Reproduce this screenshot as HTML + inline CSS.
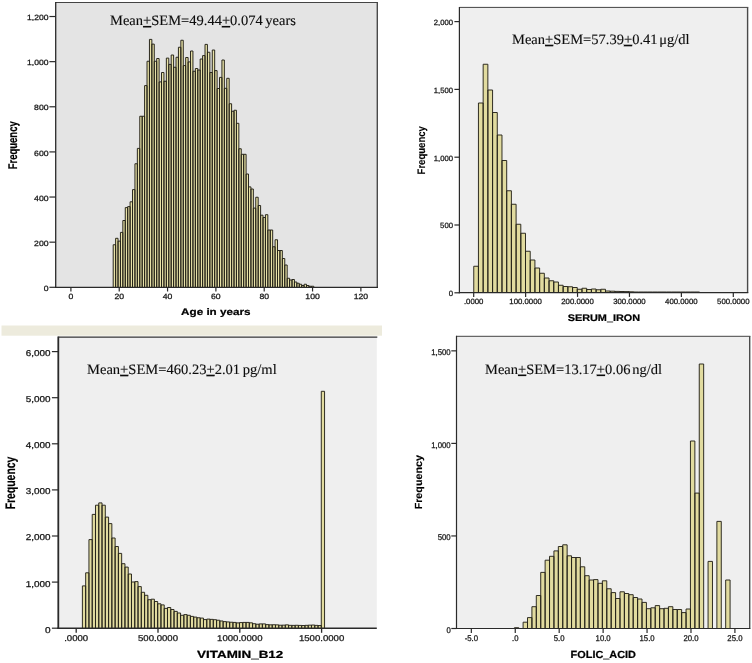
<!DOCTYPE html>
<html><head><meta charset="utf-8"><title>Histograms</title>
<style>html,body{margin:0;padding:0;background:#fff;}body{width:752px;height:663px;overflow:hidden;font-family:"Liberation Sans",sans-serif;}svg{display:block;will-change:transform;}</style>
</head><body>
<svg width="752" height="663" viewBox="0 0 752 663">
<rect width="752" height="663" fill="#ffffff"/>
<rect x="1.5" y="325.5" width="380.5" height="10.2" fill="#edebdd"/>
<rect x="55.7" y="2.5" width="321.8" height="284.8" fill="#e4e4e4"/>
<path d="M55.7 2.5H378.0" stroke="#444" stroke-width="1" fill="none"/>
<path d="M377.3 2.5V287.3" stroke="#4a4a4a" stroke-width="1.4" fill="none"/>
<path d="M113.19 287.30V244.75H115.61V287.30M115.61 287.30V238.30H118.02V287.30M118.02 287.30V241.10H120.44V287.30M120.44 287.30V232.40H122.85V287.30M122.85 287.30V220.50H125.27V287.30M125.27 287.30V207.60H127.69V287.30M127.69 287.30V206.60H130.10V287.30M130.10 287.30V201.80H132.52V287.30M132.52 287.30V189.60H134.94V287.30M134.94 287.30V163.75H137.35V287.30M137.35 287.30V148.40H139.77V287.30M139.77 287.30V116.25H142.19V287.30M142.19 287.30V116.25H144.60V287.30M144.60 287.30V85.60H147.02V287.30M147.02 287.30V61.25H149.44V287.30M149.44 287.30V39.40H151.85V287.30M151.85 287.30V44.10H154.27V287.30M154.27 287.30V61.25H156.69V287.30M156.69 287.30V58.50H159.10V287.30M159.10 287.30V81.90H161.52V287.30M161.52 287.30V72.50H163.94V287.30M163.94 287.30V81.25H166.35V287.30M166.35 287.30V58.10H168.77V287.30M168.77 287.30V64.40H171.18V287.30M171.18 287.30V55.00H173.60V287.30M173.60 287.30V67.25H176.02V287.30M176.02 287.30V57.25H178.43V287.30M178.43 287.30V47.25H180.85V287.30M180.85 287.30V40.25H183.27V287.30M183.27 287.30V65.60H185.68V287.30M185.68 287.30V57.50H188.10V287.30M188.10 287.30V61.90H190.52V287.30M190.52 287.30V51.00H192.93V287.30M192.93 287.30V71.25H195.35V287.30M195.35 287.30V68.50H197.77V287.30M197.77 287.30V70.00H200.18V287.30M200.18 287.30V59.00H202.60V287.30M202.60 287.30V55.60H205.02V287.30M205.02 287.30V44.40H207.43V287.30M207.43 287.30V52.25H209.85V287.30M209.85 287.30V72.50H212.27V287.30M212.27 287.30V50.00H214.68V287.30M214.68 287.30V70.60H217.10V287.30M217.10 287.30V88.50H219.51V287.30M219.51 287.30V77.40H221.93V287.30M221.93 287.30V60.00H224.35V287.30M224.35 287.30V88.30H226.76V287.30M226.76 287.30V78.30H229.18V287.30M229.18 287.30V103.75H231.60V287.30M231.60 287.30V111.25H234.01V287.30M234.01 287.30V110.25H236.43V287.30M236.43 287.30V123.30H238.85V287.30M238.85 287.30V148.75H241.26V287.30M241.26 287.30V154.30H243.68V287.30M243.68 287.30V154.30H246.10V287.30M246.10 287.30V174.00H248.51V287.30M248.51 287.30V186.90H250.93V287.30M250.93 287.30V189.00H253.35V287.30M253.35 287.30V208.10H255.76V287.30M255.76 287.30V197.25H258.18V287.30M258.18 287.30V205.50H260.60V287.30M260.60 287.30V215.20H263.01V287.30M263.01 287.30V217.50H265.43V287.30M265.43 287.30V214.70H267.84V287.30M267.84 287.30V230.00H270.26V287.30M270.26 287.30V230.00H272.68V287.30M272.68 287.30V246.75H275.09V287.30M275.09 287.30V239.75H277.51V287.30M277.51 287.30V250.50H279.93V287.30M279.93 287.30V250.50H282.34V287.30M282.34 287.30V258.50H284.76V287.30M284.76 287.30V265.00H287.18V287.30M287.18 287.30V278.25H289.59V287.30M289.59 287.30V280.00H292.01V287.30M292.01 287.30V279.50H294.43V287.30M294.43 287.30V282.00H296.84V287.30M296.84 287.30V283.25H299.26V287.30M299.26 287.30V284.25H301.68V287.30M301.68 287.30V285.50H304.09V287.30M304.09 287.30V284.25H306.51V287.30M306.51 287.30V285.50H308.93V287.30M308.93 287.30V286.25H311.34V287.30M311.34 287.30V286.25H313.76V287.30" fill="#e8e2a8" stroke="#26241a" stroke-width="0.98"/>
<path d="M55.7 2.0V287.95" stroke="#2a2a2a" stroke-width="1.3" fill="none"/>
<path d="M55.050000000000004 287.3H378.0" stroke="#2a2a2a" stroke-width="1.3" fill="none"/>
<path d="M49.400000000000006 287.30H55.7" stroke="#2a2a2a" stroke-width="1.2"/>
<text x="48.5" y="291.0" text-rendering="geometricPrecision" font-family="Liberation Sans, sans-serif" font-size="7.6" text-anchor="end" fill="#161616" stroke="#161616" stroke-width="0.26" textLength="4.8" lengthAdjust="spacingAndGlyphs">0</text>
<path d="M49.400000000000006 242.17H55.7" stroke="#2a2a2a" stroke-width="1.2"/>
<text x="48.5" y="245.87" text-rendering="geometricPrecision" font-family="Liberation Sans, sans-serif" font-size="7.6" text-anchor="end" fill="#161616" stroke="#161616" stroke-width="0.26" textLength="14.4" lengthAdjust="spacingAndGlyphs">200</text>
<path d="M49.400000000000006 197.04H55.7" stroke="#2a2a2a" stroke-width="1.2"/>
<text x="48.5" y="200.74" text-rendering="geometricPrecision" font-family="Liberation Sans, sans-serif" font-size="7.6" text-anchor="end" fill="#161616" stroke="#161616" stroke-width="0.26" textLength="14.4" lengthAdjust="spacingAndGlyphs">400</text>
<path d="M49.400000000000006 151.91H55.7" stroke="#2a2a2a" stroke-width="1.2"/>
<text x="48.5" y="155.61" text-rendering="geometricPrecision" font-family="Liberation Sans, sans-serif" font-size="7.6" text-anchor="end" fill="#161616" stroke="#161616" stroke-width="0.26" textLength="14.4" lengthAdjust="spacingAndGlyphs">600</text>
<path d="M49.400000000000006 106.78H55.7" stroke="#2a2a2a" stroke-width="1.2"/>
<text x="48.5" y="110.48" text-rendering="geometricPrecision" font-family="Liberation Sans, sans-serif" font-size="7.6" text-anchor="end" fill="#161616" stroke="#161616" stroke-width="0.26" textLength="14.4" lengthAdjust="spacingAndGlyphs">800</text>
<path d="M49.400000000000006 61.65H55.7" stroke="#2a2a2a" stroke-width="1.2"/>
<text x="48.5" y="65.35" text-rendering="geometricPrecision" font-family="Liberation Sans, sans-serif" font-size="7.6" text-anchor="end" fill="#161616" stroke="#161616" stroke-width="0.26" textLength="21.4" lengthAdjust="spacingAndGlyphs">1,000</text>
<path d="M49.400000000000006 16.52H55.7" stroke="#2a2a2a" stroke-width="1.2"/>
<text x="48.5" y="20.22" text-rendering="geometricPrecision" font-family="Liberation Sans, sans-serif" font-size="7.6" text-anchor="end" fill="#161616" stroke="#161616" stroke-width="0.26" textLength="21.4" lengthAdjust="spacingAndGlyphs">1,200</text>
<path d="M70.90 287.3V291.5" stroke="#2a2a2a" stroke-width="1.2"/>
<text x="70.9" y="299.2" text-rendering="geometricPrecision" font-family="Liberation Sans, sans-serif" font-size="7.6" text-anchor="middle" fill="#161616" stroke="#161616" stroke-width="0.26" textLength="4.8" lengthAdjust="spacingAndGlyphs">0</text>
<path d="M119.23 287.3V291.5" stroke="#2a2a2a" stroke-width="1.2"/>
<text x="119.23" y="299.2" text-rendering="geometricPrecision" font-family="Liberation Sans, sans-serif" font-size="7.6" text-anchor="middle" fill="#161616" stroke="#161616" stroke-width="0.26" textLength="9.6" lengthAdjust="spacingAndGlyphs">20</text>
<path d="M167.56 287.3V291.5" stroke="#2a2a2a" stroke-width="1.2"/>
<text x="167.56" y="299.2" text-rendering="geometricPrecision" font-family="Liberation Sans, sans-serif" font-size="7.6" text-anchor="middle" fill="#161616" stroke="#161616" stroke-width="0.26" textLength="9.6" lengthAdjust="spacingAndGlyphs">40</text>
<path d="M215.89 287.3V291.5" stroke="#2a2a2a" stroke-width="1.2"/>
<text x="215.89" y="299.2" text-rendering="geometricPrecision" font-family="Liberation Sans, sans-serif" font-size="7.6" text-anchor="middle" fill="#161616" stroke="#161616" stroke-width="0.26" textLength="9.6" lengthAdjust="spacingAndGlyphs">60</text>
<path d="M264.22 287.3V291.5" stroke="#2a2a2a" stroke-width="1.2"/>
<text x="264.22" y="299.2" text-rendering="geometricPrecision" font-family="Liberation Sans, sans-serif" font-size="7.6" text-anchor="middle" fill="#161616" stroke="#161616" stroke-width="0.26" textLength="9.6" lengthAdjust="spacingAndGlyphs">80</text>
<path d="M312.55 287.3V291.5" stroke="#2a2a2a" stroke-width="1.2"/>
<text x="312.55" y="299.2" text-rendering="geometricPrecision" font-family="Liberation Sans, sans-serif" font-size="7.6" text-anchor="middle" fill="#161616" stroke="#161616" stroke-width="0.26" textLength="14.4" lengthAdjust="spacingAndGlyphs">100</text>
<path d="M360.88 287.3V291.5" stroke="#2a2a2a" stroke-width="1.2"/>
<text x="360.88" y="299.2" text-rendering="geometricPrecision" font-family="Liberation Sans, sans-serif" font-size="7.6" text-anchor="middle" fill="#161616" stroke="#161616" stroke-width="0.26" textLength="14.4" lengthAdjust="spacingAndGlyphs">120</text>
<text x="215.8" y="315.2" text-rendering="geometricPrecision" font-family="Liberation Sans, sans-serif" font-size="9.6" text-anchor="middle" fill="#000" font-weight="bold" stroke="#000" stroke-width="0.22" textLength="69.4" lengthAdjust="spacingAndGlyphs">Age in years</text>
<text transform="translate(16.9 145.3) rotate(-90)" text-rendering="geometricPrecision" font-family="Liberation Sans, sans-serif" font-size="12.6" text-anchor="middle" fill="#000" font-weight="bold" stroke="#000" stroke-width="0.2" textLength="48.1" lengthAdjust="spacingAndGlyphs">Frequency</text>
<text x="110" y="25" text-rendering="geometricPrecision" font-family="Liberation Serif, serif" font-size="14.3" text-anchor="start" fill="#0c0c0c" stroke="#0c0c0c" stroke-width="0.12" style="word-spacing:-1px" textLength="186" lengthAdjust="spacingAndGlyphs">Mean<tspan style="text-decoration:underline;text-decoration-thickness:0.7px;text-underline-offset:1.2px">+</tspan>SEM=49.44<tspan style="text-decoration:underline;text-decoration-thickness:0.7px;text-underline-offset:1.2px">+</tspan>0.074 years</text>
<rect x="459.4" y="7.4" width="288.4" height="285.3" fill="#efefef"/>
<path d="M459.4 7.4H748.3" stroke="#444" stroke-width="1" fill="none"/>
<path d="M747.5999999999999 7.4V292.7" stroke="#4a4a4a" stroke-width="1.4" fill="none"/>
<path d="M473.75 292.70V266.25H478.45V292.70M478.45 292.70V103.00H483.16V292.70M483.16 292.70V64.25H487.87V292.70M487.87 292.70V90.00H492.57V292.70M492.57 292.70V112.50H497.27V292.70M497.27 292.70V135.00H501.98V292.70M501.98 292.70V160.50H506.69V292.70M506.69 292.70V190.75H511.39V292.70M511.39 292.70V204.25H516.10V292.70M516.10 292.70V224.25H520.80V292.70M520.80 292.70V233.25H525.50V292.70M525.50 292.70V251.25H530.21V292.70M530.21 292.70V260.00H534.91V292.70M534.91 292.70V268.00H539.62V292.70M539.62 292.70V273.25H544.33V292.70M544.33 292.70V278.00H549.03V292.70M549.03 292.70V280.75H553.74V292.70M553.74 292.70V282.00H558.44V292.70M558.44 292.70V285.25H563.14V292.70M563.14 292.70V286.50H567.85V292.70M567.85 292.70V286.75H572.56V292.70M572.56 292.70V287.50H577.26V292.70M577.26 292.70V289.25H581.97V292.70M581.97 292.70V288.25H586.67V292.70M586.67 292.70V289.50H591.38V292.70M591.38 292.70V289.00H596.08V292.70M596.08 292.70V289.75H600.78V292.70M600.78 292.70V289.25H605.49V292.70M605.49 292.70V291.00H610.19V292.70M610.19 292.70V291.20H614.90V292.70M614.90 292.70V291.40H619.61V292.70M619.61 292.70V291.50H624.31V292.70M624.31 292.70V291.60H629.01V292.70M629.01 292.70V291.80H633.72V292.70M633.72 292.70V292.00H638.42V292.70M638.42 292.70V292.00H643.13V292.70M643.13 292.70V292.00H647.84V292.70M647.84 292.70V292.00H652.54V292.70M652.54 292.70V292.00H657.25V292.70M657.25 292.70V292.00H661.95V292.70M661.95 292.70V292.00H666.65V292.70M666.65 292.70V292.00H671.36V292.70M671.36 292.70V292.00H676.07V292.70M676.07 292.70V292.00H680.77V292.70M680.77 292.70V292.00H685.48V292.70M685.48 292.70V292.00H690.18V292.70M690.18 292.70V292.00H694.88V292.70M694.88 292.70V292.00H699.59V292.70" fill="#e1db9f" stroke="#26241a" stroke-width="0.95"/>
<path d="M459.4 6.9V293.3" stroke="#2a2a2a" stroke-width="1.2" fill="none"/>
<path d="M458.79999999999995 292.7H748.3" stroke="#2a2a2a" stroke-width="1.2" fill="none"/>
<path d="M454.4 292.80H459.4" stroke="#2a2a2a" stroke-width="1.2"/>
<text x="453.0" y="296.1" text-rendering="geometricPrecision" font-family="Liberation Sans, sans-serif" font-size="7.6" text-anchor="end" fill="#161616" stroke="#161616" stroke-width="0.26" textLength="4.3" lengthAdjust="spacingAndGlyphs">0</text>
<path d="M454.4 225.00H459.4" stroke="#2a2a2a" stroke-width="1.2"/>
<text x="453.0" y="228.3" text-rendering="geometricPrecision" font-family="Liberation Sans, sans-serif" font-size="7.6" text-anchor="end" fill="#161616" stroke="#161616" stroke-width="0.26" textLength="12.9" lengthAdjust="spacingAndGlyphs">500</text>
<path d="M454.4 157.20H459.4" stroke="#2a2a2a" stroke-width="1.2"/>
<text x="453.0" y="160.5" text-rendering="geometricPrecision" font-family="Liberation Sans, sans-serif" font-size="7.6" text-anchor="end" fill="#161616" stroke="#161616" stroke-width="0.26" textLength="19.2" lengthAdjust="spacingAndGlyphs">1,000</text>
<path d="M454.4 89.40H459.4" stroke="#2a2a2a" stroke-width="1.2"/>
<text x="453.0" y="92.7" text-rendering="geometricPrecision" font-family="Liberation Sans, sans-serif" font-size="7.6" text-anchor="end" fill="#161616" stroke="#161616" stroke-width="0.26" textLength="19.2" lengthAdjust="spacingAndGlyphs">1,500</text>
<path d="M454.4 21.60H459.4" stroke="#2a2a2a" stroke-width="1.2"/>
<text x="453.0" y="24.9" text-rendering="geometricPrecision" font-family="Liberation Sans, sans-serif" font-size="7.6" text-anchor="end" fill="#161616" stroke="#161616" stroke-width="0.26" textLength="19.2" lengthAdjust="spacingAndGlyphs">2,000</text>
<path d="M473.70 292.7V296.9" stroke="#2a2a2a" stroke-width="1.2"/>
<text x="473.7" y="304.3" text-rendering="geometricPrecision" font-family="Liberation Sans, sans-serif" font-size="7.6" text-anchor="middle" fill="#161616" stroke="#161616" stroke-width="0.26" textLength="19.5" lengthAdjust="spacingAndGlyphs">.0000</text>
<path d="M525.62 292.7V296.9" stroke="#2a2a2a" stroke-width="1.2"/>
<text x="525.62" y="304.3" text-rendering="geometricPrecision" font-family="Liberation Sans, sans-serif" font-size="7.6" text-anchor="middle" fill="#161616" stroke="#161616" stroke-width="0.26" textLength="32.5" lengthAdjust="spacingAndGlyphs">100.0000</text>
<path d="M577.54 292.7V296.9" stroke="#2a2a2a" stroke-width="1.2"/>
<text x="577.54" y="304.3" text-rendering="geometricPrecision" font-family="Liberation Sans, sans-serif" font-size="7.6" text-anchor="middle" fill="#161616" stroke="#161616" stroke-width="0.26" textLength="32.5" lengthAdjust="spacingAndGlyphs">200.0000</text>
<path d="M629.46 292.7V296.9" stroke="#2a2a2a" stroke-width="1.2"/>
<text x="629.46" y="304.3" text-rendering="geometricPrecision" font-family="Liberation Sans, sans-serif" font-size="7.6" text-anchor="middle" fill="#161616" stroke="#161616" stroke-width="0.26" textLength="32.5" lengthAdjust="spacingAndGlyphs">300.0000</text>
<path d="M681.38 292.7V296.9" stroke="#2a2a2a" stroke-width="1.2"/>
<text x="681.38" y="304.3" text-rendering="geometricPrecision" font-family="Liberation Sans, sans-serif" font-size="7.6" text-anchor="middle" fill="#161616" stroke="#161616" stroke-width="0.26" textLength="32.5" lengthAdjust="spacingAndGlyphs">400.0000</text>
<path d="M733.30 292.7V296.9" stroke="#2a2a2a" stroke-width="1.2"/>
<text x="733.3" y="304.3" text-rendering="geometricPrecision" font-family="Liberation Sans, sans-serif" font-size="7.6" text-anchor="middle" fill="#161616" stroke="#161616" stroke-width="0.26" textLength="32.5" lengthAdjust="spacingAndGlyphs">500.0000</text>
<text x="603.9" y="320.6" text-rendering="geometricPrecision" font-family="Liberation Sans, sans-serif" font-size="9.5" text-anchor="middle" fill="#000" font-weight="bold" stroke="#000" stroke-width="0.22" textLength="72.5" lengthAdjust="spacingAndGlyphs">SERUM_IRON</text>
<text transform="translate(425.3 150.3) rotate(-90)" text-rendering="geometricPrecision" font-family="Liberation Sans, sans-serif" font-size="10.9" text-anchor="middle" fill="#000" font-weight="bold" stroke="#000" stroke-width="0.1" textLength="48.3" lengthAdjust="spacingAndGlyphs">Frequency</text>
<text x="512" y="43.8" text-rendering="geometricPrecision" font-family="Liberation Serif, serif" font-size="14.3" text-anchor="start" fill="#0c0c0c" stroke="#0c0c0c" stroke-width="0.12" style="word-spacing:-2px" textLength="177.5" lengthAdjust="spacingAndGlyphs">Mean<tspan style="text-decoration:underline;text-decoration-thickness:0.7px;text-underline-offset:1.2px">+</tspan>SEM=57.39<tspan style="text-decoration:underline;text-decoration-thickness:0.7px;text-underline-offset:1.2px">+</tspan>0.41 &#956;g/dl</text>
<rect x="58.3" y="337.1" width="318.5" height="291.1" fill="#efefef"/>
<path d="M58.3 337.1H377.3" stroke="#333" stroke-width="1.4" fill="none"/>
<path d="M82.40 628.20V585.90H85.67V628.20M85.67 628.20V572.80H88.95V628.20M88.95 628.20V539.60H92.22V628.20M92.22 628.20V514.40H95.49V628.20M95.49 628.20V505.20H98.76V628.20M98.76 628.20V502.90H102.03V628.20M102.03 628.20V505.20H105.31V628.20M105.31 628.20V517.10H108.58V628.20M108.58 628.20V523.60H111.85V628.20M111.85 628.20V538.00H115.12V628.20M115.12 628.20V546.50H118.40V628.20M118.40 628.20V553.40H121.67V628.20M121.67 628.20V563.70H124.94V628.20M124.94 628.20V567.10H128.22V628.20M128.22 628.20V574.00H131.49V628.20M131.49 628.20V582.00H134.76V628.20M134.76 628.20V581.60H138.03V628.20M138.03 628.20V586.60H141.31V628.20M141.31 628.20V592.30H144.58V628.20M144.58 628.20V595.30H147.85V628.20M147.85 628.20V599.70H151.12V628.20M151.12 628.20V599.20H154.40V628.20M154.40 628.20V601.50H157.67V628.20M157.67 628.20V603.80H160.94V628.20M160.94 628.20V604.90H164.21V628.20M164.21 628.20V608.40H167.49V628.20M167.49 628.20V607.50H170.76V628.20M170.76 628.20V609.50H174.03V628.20M174.03 628.20V611.40H177.30V628.20M177.30 628.20V613.00H180.57V628.20M180.57 628.20V615.30H183.85V628.20M183.85 628.20V614.60H187.12V628.20M187.12 628.20V615.30H190.39V628.20M190.39 628.20V616.40H193.67V628.20M193.67 628.20V617.10H196.94V628.20M196.94 628.20V617.76H200.21V628.20M200.21 628.20V618.09H203.48V628.20M203.48 628.20V619.59H206.75V628.20M206.75 628.20V619.10H210.03V628.20M210.03 628.20V619.37H213.30V628.20M213.30 628.20V619.69H216.57V628.20M216.57 628.20V620.23H219.84V628.20M219.84 628.20V620.97H223.12V628.20M223.12 628.20V621.61H226.39V628.20M226.39 628.20V621.93H229.66V628.20M229.66 628.20V622.24H232.94V628.20M232.94 628.20V622.41H236.21V628.20M236.21 628.20V622.89H239.48V628.20M239.48 628.20V622.57H242.75V628.20M242.75 628.20V622.41H246.03V628.20M246.03 628.20V622.41H249.30V628.20M249.30 628.20V622.82H252.57V628.20M252.57 628.20V623.71H255.84V628.20M255.84 628.20V624.23H259.12V628.20M259.12 628.20V623.90H262.39V628.20M262.39 628.20V623.90H265.66V628.20M265.66 628.20V624.61H268.93V628.20M268.93 628.20V624.83H272.21V628.20M272.21 628.20V624.74H275.48V628.20M275.48 628.20V624.87H278.75V628.20M278.75 628.20V625.21H282.02V628.20M282.02 628.20V625.15H285.30V628.20M285.30 628.20V624.85H288.57V628.20M288.57 628.20V625.34H291.84V628.20M291.84 628.20V625.39H295.11V628.20M295.11 628.20V625.27H298.38V628.20M298.38 628.20V625.41H301.66V628.20M301.66 628.20V625.50H304.93V628.20M304.93 628.20V625.34H308.20V628.20M308.20 628.20V625.17H311.48V628.20M311.48 628.20V625.04H314.75V628.20M314.75 628.20V625.37H318.02V628.20M318.02 628.20V625.54H321.29V628.20M321.29 628.20V391.30H324.56V628.20" fill="#e1db9f" stroke="#26241a" stroke-width="0.95"/>
<path d="M58.3 336.6V628.9000000000001" stroke="#2a2a2a" stroke-width="1.8" fill="none"/>
<path d="M57.4 628.2H376.8" stroke="#2a2a2a" stroke-width="1.4" fill="none"/>
<path d="M51.9 628.20H58.3" stroke="#2a2a2a" stroke-width="1.2"/>
<text x="50.6" y="632.6" text-rendering="geometricPrecision" font-family="Liberation Sans, sans-serif" font-size="8.5" text-anchor="end" fill="#161616" stroke="#161616" stroke-width="0.26" textLength="5.6" lengthAdjust="spacingAndGlyphs">0</text>
<path d="M51.9 582.10H58.3" stroke="#2a2a2a" stroke-width="1.2"/>
<text x="50.6" y="586.5" text-rendering="geometricPrecision" font-family="Liberation Sans, sans-serif" font-size="8.5" text-anchor="end" fill="#161616" stroke="#161616" stroke-width="0.26" textLength="24.8" lengthAdjust="spacingAndGlyphs">1,000</text>
<path d="M51.9 536.00H58.3" stroke="#2a2a2a" stroke-width="1.2"/>
<text x="50.6" y="540.4" text-rendering="geometricPrecision" font-family="Liberation Sans, sans-serif" font-size="8.5" text-anchor="end" fill="#161616" stroke="#161616" stroke-width="0.26" textLength="24.8" lengthAdjust="spacingAndGlyphs">2,000</text>
<path d="M51.9 489.90H58.3" stroke="#2a2a2a" stroke-width="1.2"/>
<text x="50.6" y="494.3" text-rendering="geometricPrecision" font-family="Liberation Sans, sans-serif" font-size="8.5" text-anchor="end" fill="#161616" stroke="#161616" stroke-width="0.26" textLength="24.8" lengthAdjust="spacingAndGlyphs">3,000</text>
<path d="M51.9 443.80H58.3" stroke="#2a2a2a" stroke-width="1.2"/>
<text x="50.6" y="448.2" text-rendering="geometricPrecision" font-family="Liberation Sans, sans-serif" font-size="8.5" text-anchor="end" fill="#161616" stroke="#161616" stroke-width="0.26" textLength="24.8" lengthAdjust="spacingAndGlyphs">4,000</text>
<path d="M51.9 397.70H58.3" stroke="#2a2a2a" stroke-width="1.2"/>
<text x="50.6" y="402.1" text-rendering="geometricPrecision" font-family="Liberation Sans, sans-serif" font-size="8.5" text-anchor="end" fill="#161616" stroke="#161616" stroke-width="0.26" textLength="24.8" lengthAdjust="spacingAndGlyphs">5,000</text>
<path d="M51.9 351.60H58.3" stroke="#2a2a2a" stroke-width="1.2"/>
<text x="50.6" y="356.0" text-rendering="geometricPrecision" font-family="Liberation Sans, sans-serif" font-size="8.5" text-anchor="end" fill="#161616" stroke="#161616" stroke-width="0.26" textLength="24.8" lengthAdjust="spacingAndGlyphs">6,000</text>
<path d="M76.20 628.2V632.8000000000001" stroke="#2a2a2a" stroke-width="1.3"/>
<text x="76.2" y="641.4" text-rendering="geometricPrecision" font-family="Liberation Sans, sans-serif" font-size="8.4" text-anchor="middle" fill="#161616" stroke="#161616" stroke-width="0.26" textLength="24.0" lengthAdjust="spacingAndGlyphs">.0000</text>
<path d="M158.00 628.2V632.8000000000001" stroke="#2a2a2a" stroke-width="1.3"/>
<text x="158.0" y="641.4" text-rendering="geometricPrecision" font-family="Liberation Sans, sans-serif" font-size="8.4" text-anchor="middle" fill="#161616" stroke="#161616" stroke-width="0.26" textLength="40.0" lengthAdjust="spacingAndGlyphs">500.0000</text>
<path d="M239.80 628.2V632.8000000000001" stroke="#2a2a2a" stroke-width="1.3"/>
<text x="239.8" y="641.4" text-rendering="geometricPrecision" font-family="Liberation Sans, sans-serif" font-size="8.4" text-anchor="middle" fill="#161616" stroke="#161616" stroke-width="0.26" textLength="45.4" lengthAdjust="spacingAndGlyphs">1000.0000</text>
<path d="M321.60 628.2V632.8000000000001" stroke="#2a2a2a" stroke-width="1.3"/>
<text x="321.6" y="641.4" text-rendering="geometricPrecision" font-family="Liberation Sans, sans-serif" font-size="8.4" text-anchor="middle" fill="#161616" stroke="#161616" stroke-width="0.26" textLength="45.4" lengthAdjust="spacingAndGlyphs">1500.0000</text>
<text x="240.2" y="658.35" text-rendering="geometricPrecision" font-family="Liberation Sans, sans-serif" font-size="10.4" text-anchor="middle" fill="#000" font-weight="bold" stroke="#000" stroke-width="0.22" textLength="86.2" lengthAdjust="spacingAndGlyphs">VITAMIN_B12</text>
<text transform="translate(14.8 483.0) rotate(-90)" text-rendering="geometricPrecision" font-family="Liberation Sans, sans-serif" font-size="13.8" text-anchor="middle" fill="#000" font-weight="bold" stroke="#000" stroke-width="0.2" textLength="52.7" lengthAdjust="spacingAndGlyphs">Frequency</text>
<text x="87" y="373.8" text-rendering="geometricPrecision" font-family="Liberation Serif, serif" font-size="14.3" text-anchor="start" fill="#0c0c0c" stroke="#0c0c0c" stroke-width="0.12" style="word-spacing:-1px" textLength="189.7" lengthAdjust="spacingAndGlyphs">Mean<tspan style="text-decoration:underline;text-decoration-thickness:0.7px;text-underline-offset:1.2px">+</tspan>SEM=460.23<tspan style="text-decoration:underline;text-decoration-thickness:0.7px;text-underline-offset:1.2px">+</tspan>2.01 pg/ml</text>
<rect x="456.5" y="336.3" width="293.4" height="292.2" fill="#efefef"/>
<path d="M456.5 336.3H750.4" stroke="#444" stroke-width="1" fill="none"/>
<path d="M749.6999999999999 336.3V628.5" stroke="#4a4a4a" stroke-width="1.4" fill="none"/>
<path d="M514.40 628.50V627.70H518.80V628.50M523.10 628.50V622.20H527.50V628.50M527.50 628.50V617.60H531.91V628.50M531.91 628.50V606.70H536.31V628.50M536.31 628.50V595.50H540.72V628.50M540.72 628.50V572.40H545.12V628.50M545.12 628.50V560.20H549.52V628.50M549.52 628.50V556.30H553.93V628.50M553.93 628.50V550.90H558.33V628.50M558.33 628.50V546.50H562.74V628.50M562.74 628.50V544.80H567.14V628.50M567.14 628.50V555.80H571.54V628.50M571.54 628.50V557.50H575.95V628.50M575.95 628.50V557.50H580.35V628.50M580.35 628.50V566.80H584.76V628.50M584.76 628.50V575.70H589.16V628.50M589.16 628.50V580.00H593.56V628.50M593.56 628.50V579.60H597.97V628.50M597.97 628.50V583.30H602.37V628.50M602.37 628.50V580.80H606.78V628.50M606.78 628.50V588.75H611.18V628.50M611.18 628.50V592.60H615.58V628.50M615.58 628.50V598.50H619.99V628.50M619.99 628.50V591.80H624.39V628.50M624.39 628.50V593.50H628.80V628.50M628.80 628.50V594.70H633.20V628.50M633.20 628.50V597.50H637.60V628.50M637.60 628.50V599.00H642.01V628.50M642.01 628.50V602.40H646.41V628.50M646.41 628.50V608.70H650.82V628.50M650.82 628.50V607.80H655.22V628.50M655.22 628.50V605.60H659.62V628.50M659.62 628.50V608.70H664.03V628.50M664.03 628.50V608.30H668.43V628.50M668.43 628.50V606.70H672.84V628.50M672.84 628.50V609.50H677.24V628.50M677.24 628.50V609.50H681.64V628.50M681.64 628.50V612.60H686.05V628.50M686.05 628.50V609.00H690.45V628.50M690.45 628.50V441.00H694.86V628.50M694.86 628.50V493.10H699.26V628.50M699.26 628.50V364.00H703.66V628.50M708.07 628.50V561.40H712.47V628.50M716.88 628.50V521.40H721.28V628.50M725.68 628.50V580.00H730.09V628.50" fill="#e1db9f" stroke="#26241a" stroke-width="0.95"/>
<path d="M456.5 335.8V629.1" stroke="#2a2a2a" stroke-width="1.2" fill="none"/>
<path d="M455.9 628.5H750.4" stroke="#2a2a2a" stroke-width="1.2" fill="none"/>
<path d="M451.3 628.50H456.5" stroke="#2a2a2a" stroke-width="1.2"/>
<text x="450.7" y="632.7" text-rendering="geometricPrecision" font-family="Liberation Sans, sans-serif" font-size="8.3" text-anchor="end" fill="#161616" stroke="#161616" stroke-width="0.26" textLength="4.3" lengthAdjust="spacingAndGlyphs">0</text>
<path d="M451.3 535.95H456.5" stroke="#2a2a2a" stroke-width="1.2"/>
<text x="450.7" y="540.15" text-rendering="geometricPrecision" font-family="Liberation Sans, sans-serif" font-size="8.3" text-anchor="end" fill="#161616" stroke="#161616" stroke-width="0.26" textLength="13.0" lengthAdjust="spacingAndGlyphs">500</text>
<path d="M451.3 443.40H456.5" stroke="#2a2a2a" stroke-width="1.2"/>
<text x="450.7" y="447.6" text-rendering="geometricPrecision" font-family="Liberation Sans, sans-serif" font-size="8.3" text-anchor="end" fill="#161616" stroke="#161616" stroke-width="0.26" textLength="19.5" lengthAdjust="spacingAndGlyphs">1,000</text>
<path d="M451.3 350.85H456.5" stroke="#2a2a2a" stroke-width="1.2"/>
<text x="450.7" y="355.05" text-rendering="geometricPrecision" font-family="Liberation Sans, sans-serif" font-size="8.3" text-anchor="end" fill="#161616" stroke="#161616" stroke-width="0.26" textLength="19.5" lengthAdjust="spacingAndGlyphs">1,500</text>
<path d="M471.33 628.5V632.9" stroke="#2a2a2a" stroke-width="1.2"/>
<text x="471.33" y="641.2" text-rendering="geometricPrecision" font-family="Liberation Sans, sans-serif" font-size="8.3" text-anchor="middle" fill="#161616" stroke="#161616" stroke-width="0.26" textLength="13.4" lengthAdjust="spacingAndGlyphs">-5.0</text>
<path d="M515.26 628.5V632.9" stroke="#2a2a2a" stroke-width="1.2"/>
<text x="515.26" y="641.2" text-rendering="geometricPrecision" font-family="Liberation Sans, sans-serif" font-size="8.3" text-anchor="middle" fill="#161616" stroke="#161616" stroke-width="0.26" textLength="6.4" lengthAdjust="spacingAndGlyphs">.0</text>
<path d="M559.19 628.5V632.9" stroke="#2a2a2a" stroke-width="1.2"/>
<text x="559.19" y="641.2" text-rendering="geometricPrecision" font-family="Liberation Sans, sans-serif" font-size="8.3" text-anchor="middle" fill="#161616" stroke="#161616" stroke-width="0.26" textLength="10.8" lengthAdjust="spacingAndGlyphs">5.0</text>
<path d="M603.12 628.5V632.9" stroke="#2a2a2a" stroke-width="1.2"/>
<text x="603.12" y="641.2" text-rendering="geometricPrecision" font-family="Liberation Sans, sans-serif" font-size="8.3" text-anchor="middle" fill="#161616" stroke="#161616" stroke-width="0.26" textLength="15.1" lengthAdjust="spacingAndGlyphs">10.0</text>
<path d="M647.05 628.5V632.9" stroke="#2a2a2a" stroke-width="1.2"/>
<text x="647.05" y="641.2" text-rendering="geometricPrecision" font-family="Liberation Sans, sans-serif" font-size="8.3" text-anchor="middle" fill="#161616" stroke="#161616" stroke-width="0.26" textLength="15.1" lengthAdjust="spacingAndGlyphs">15.0</text>
<path d="M690.98 628.5V632.9" stroke="#2a2a2a" stroke-width="1.2"/>
<text x="690.98" y="641.2" text-rendering="geometricPrecision" font-family="Liberation Sans, sans-serif" font-size="8.3" text-anchor="middle" fill="#161616" stroke="#161616" stroke-width="0.26" textLength="15.1" lengthAdjust="spacingAndGlyphs">20.0</text>
<path d="M734.91 628.5V632.9" stroke="#2a2a2a" stroke-width="1.2"/>
<text x="734.91" y="641.2" text-rendering="geometricPrecision" font-family="Liberation Sans, sans-serif" font-size="8.3" text-anchor="middle" fill="#161616" stroke="#161616" stroke-width="0.26" textLength="15.1" lengthAdjust="spacingAndGlyphs">25.0</text>
<text x="603.3" y="658.4" text-rendering="geometricPrecision" font-family="Liberation Sans, sans-serif" font-size="10.4" text-anchor="middle" fill="#000" font-weight="bold" stroke="#000" stroke-width="0.22" textLength="65.4" lengthAdjust="spacingAndGlyphs">FOLIC_ACID</text>
<text transform="translate(421.7 482.25) rotate(-90)" text-rendering="geometricPrecision" font-family="Liberation Sans, sans-serif" font-size="10.3" text-anchor="middle" fill="#000" font-weight="bold" stroke="#000" stroke-width="0.1" textLength="54.2" lengthAdjust="spacingAndGlyphs">Frequency</text>
<text x="485" y="373.6" text-rendering="geometricPrecision" font-family="Liberation Serif, serif" font-size="14.3" text-anchor="start" fill="#0c0c0c" stroke="#0c0c0c" stroke-width="0.12" style="word-spacing:-1.8px" textLength="177" lengthAdjust="spacingAndGlyphs">Mean<tspan style="text-decoration:underline;text-decoration-thickness:0.7px;text-underline-offset:1.2px">+</tspan>SEM=13.17<tspan style="text-decoration:underline;text-decoration-thickness:0.7px;text-underline-offset:1.2px">+</tspan>0.06 ng/dl</text>
</svg>
</body></html>
